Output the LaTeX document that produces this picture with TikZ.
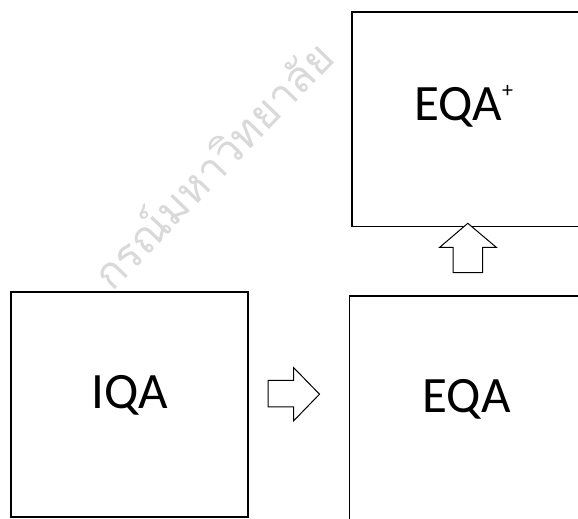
\documentclass[tikz,border=0pt]{standalone}
\usepackage{fontspec}
\setmainfont{Carlito}
\newfontfamily\thaifont[Script=Thai]{Loma}
\begin{document}
\begin{tikzpicture}[x=1pt,y=1pt,
  box/.style={draw=black, line width=1.6pt, fill=white, minimum width=237pt, inner sep=0pt},
  lbl/.style={font=\fontsize{51}{51}\selectfont, inner sep=0pt, text=black},
  blockarrow/.style={draw=black, line width=1pt, fill=white, line join=miter},
  wmark/.style={text=gray!30, font=\thaifont\fontsize{43}{43}\selectfont, inner sep=0pt}]
\useasboundingbox (0,0) rectangle (578,519);
\fill[white] (0,0) rectangle (578,519);
% faint watermark
\node[wmark, rotate=46, anchor=base west] (wm) at (112,226) {กรณ์มหาวิทยาลัย};
% boxes
\node[box, minimum height=225pt] (iqa) at (129.5,114.5) {};
\node[box, minimum height=214.4pt] (eqap) at (470.5,399.5) {};
\node[box, line width=1.2pt, minimum height=225pt] (eqa) at (468,110.5) {};
% labels
\node[lbl, anchor=base] (tiqa) at (130,110.7) {IQA};
\node[lbl, anchor=base] (teqa) at (466.7,106.3) {EQA};
\node[lbl, anchor=base west] (teqap) at (414,398.3) {EQA\raisebox{23pt}{\fontsize{22}{22}\selectfont +}};
% block arrows
\draw[blockarrow] (268,138.5) -- (293.5,138.5) -- (293.5,151.5) -- (319.5,124.8)
  -- (293.5,98) -- (293.5,112) -- (268,112) -- cycle;
\draw[blockarrow] (453,246.3) -- (453,271.5) -- (439.5,271.5) -- (467.8,295.7)
  -- (496.5,271.5) -- (482.5,271.5) -- (482.5,246.3) -- cycle;
\end{tikzpicture}
\end{document}
